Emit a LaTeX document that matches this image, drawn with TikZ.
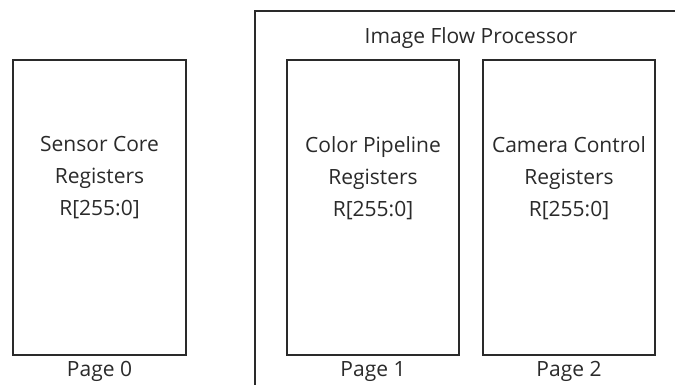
\documentclass[tikz,border=0pt]{standalone}
\usepackage{fontspec}
\setmainfont{Open Sans}
\definecolor{ink}{HTML}{2A2A2A}
\begin{document}
\begin{tikzpicture}[x=1pt,y=-1pt,
  box/.style={draw=ink,line width=1.4pt},
  lbl/.style={text=ink,font=\fontsize{21}{32}\selectfont,inner sep=0pt,anchor=base},
  reg/.style={text=ink,font=\fontsize{21}{32}\selectfont,align=center,inner sep=0pt}]
\useasboundingbox (0,0) rectangle (675,384);
% outer processor frame (open to the right and bottom)
\draw[box] (255,390) -- (255,11) -- (680,11);
\node[lbl] (ifp) at (471,43) {Image Flow Processor};
% register boxes
\draw[box] (13,60) rectangle (186,355);
\draw[box] (287,60) rectangle (459,355);
\draw[box] (483,60) rectangle (655,355);
\node[reg] (sc) at (99.5,178) {Sensor Core\\Registers\\R[255:0]};
\node[reg] (cp) at (373,178) {Color Pipeline\\Registers\\R[255:0]};
\node[reg] (cc) at (569,178) {Camera Control\\Registers\\R[255:0]};
\node[lbl] (p0) at (99.5,376) {Page 0};
\node[lbl] (p1) at (373,376) {Page 1};
\node[lbl] (p2) at (569,376) {Page 2};
\end{tikzpicture}
\end{document}
